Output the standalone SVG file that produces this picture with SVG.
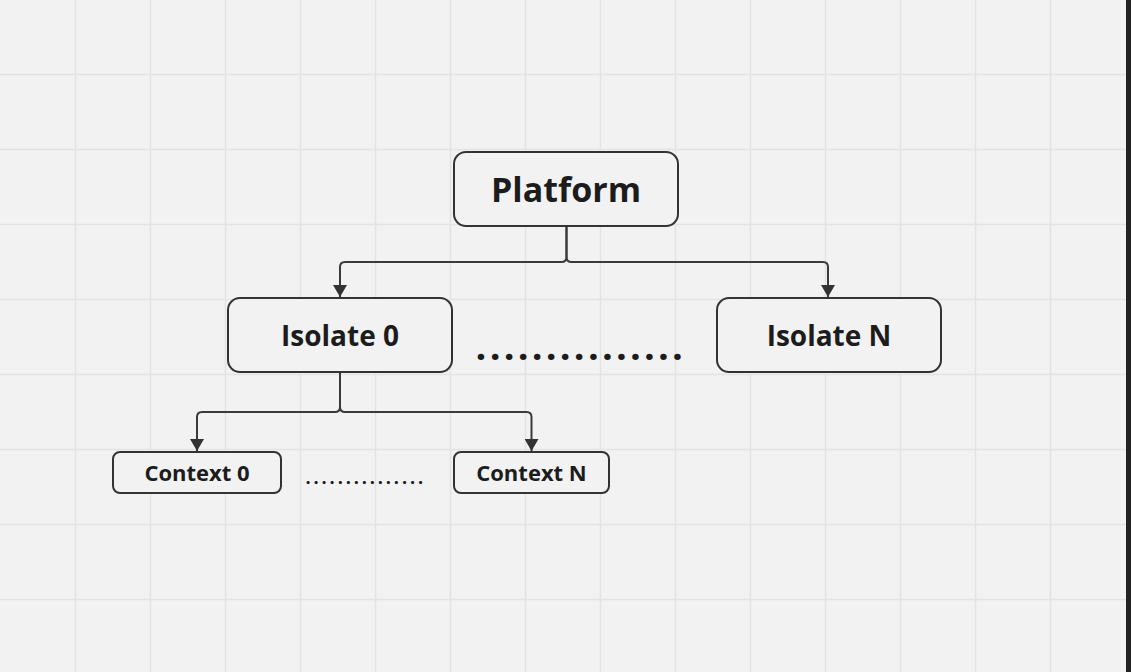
<svg xmlns="http://www.w3.org/2000/svg" width="1131" height="672" viewBox="0 0 1131 672">
<defs>
<style>
.box{fill:#f2f2f2;stroke:#333333;stroke-width:2}
.lbl{font-family:"Open Sans","Noto Sans",sans-serif;font-weight:700;fill:#1c1c1c;text-anchor:middle}
.conn{fill:none;stroke:#3a3a3a;stroke-width:2}
.grid{stroke:#e3e3e3;stroke-width:1.5}
.dots{font-family:"Open Sans","Noto Sans",sans-serif;font-weight:700;fill:#1c1c1c}
</style>
<marker id="arr" viewBox="0 0 12 14" refX="12" refY="7" markerWidth="12" markerHeight="14" markerUnits="userSpaceOnUse" orient="auto">
<path d="M0,0 L12,7 L0,14 Z" fill="#333333"/>
</marker>
</defs>
<rect width="1131" height="672" fill="#f2f2f2"/>
<g id="grid" class="grid">
<line x1="75.5" y1="0" x2="75.5" y2="672"/>
<line x1="150.5" y1="0" x2="150.5" y2="672"/>
<line x1="225.5" y1="0" x2="225.5" y2="672"/>
<line x1="300.5" y1="0" x2="300.5" y2="672"/>
<line x1="375.5" y1="0" x2="375.5" y2="672"/>
<line x1="450.5" y1="0" x2="450.5" y2="672"/>
<line x1="525.5" y1="0" x2="525.5" y2="672"/>
<line x1="600.5" y1="0" x2="600.5" y2="672"/>
<line x1="675.5" y1="0" x2="675.5" y2="672"/>
<line x1="750.5" y1="0" x2="750.5" y2="672"/>
<line x1="825.5" y1="0" x2="825.5" y2="672"/>
<line x1="900.5" y1="0" x2="900.5" y2="672"/>
<line x1="975.5" y1="0" x2="975.5" y2="672"/>
<line x1="1050.5" y1="0" x2="1050.5" y2="672"/>
<line x1="0" y1="74.5" x2="1131" y2="74.5"/>
<line x1="0" y1="149.5" x2="1131" y2="149.5"/>
<line x1="0" y1="224.5" x2="1131" y2="224.5"/>
<line x1="0" y1="299.5" x2="1131" y2="299.5"/>
<line x1="0" y1="374.5" x2="1131" y2="374.5"/>
<line x1="0" y1="449.5" x2="1131" y2="449.5"/>
<line x1="0" y1="524.5" x2="1131" y2="524.5"/>
<line x1="0" y1="599.5" x2="1131" y2="599.5"/>
</g>
<rect x="1126" y="0" width="5" height="672" fill="#222222"/>
<g id="connectors">
<path class="conn" d="M566.5,227 V257 Q566.5,262 561.5,262 H345 Q340,262 340,267 V297" marker-end="url(#arr)"/>
<path class="conn" d="M566.5,227 V257 Q566.5,262 571.5,262 H823 Q828,262 828,267 V297" marker-end="url(#arr)"/>
<path class="conn" d="M340,373 V407 Q340,412 335,412 H202 Q197,412 197,417 V451" marker-end="url(#arr)"/>
<path class="conn" d="M340,373 V407 Q340,412 345,412 H526.5 Q531.5,412 531.5,417 V451" marker-end="url(#arr)"/>
</g>
<g id="platform">
<rect class="box" x="454" y="152" width="224" height="74" rx="12"/>
<text class="lbl" x="566" y="202" font-size="34">Platform</text>
</g>
<g id="isolate0">
<rect class="box" x="228" y="298" width="224" height="74" rx="12"/>
<text class="lbl" x="340" y="345.5" font-size="28">Isolate 0</text>
</g>
<g id="isolateN">
<rect class="box" x="717" y="298" width="224" height="74" rx="12"/>
<text class="lbl" x="829" y="345.5" font-size="28">Isolate N</text>
</g>
<g id="context0">
<rect class="box" x="113" y="452" width="168" height="41" rx="7"/>
<text class="lbl" x="197" y="480.5" font-size="22">Context 0</text>
</g>
<g id="contextN">
<rect class="box" x="454" y="452" width="155" height="41" rx="7"/>
<text class="lbl" x="531.5" y="480.5" font-size="22">Context N</text>
</g>
<text class="dots" x="475.6" y="359.5" font-size="38" letter-spacing="3.2">...............</text>
<text class="dots" x="305.5" y="484" font-size="18" letter-spacing="2.9">...............</text>
</svg>
